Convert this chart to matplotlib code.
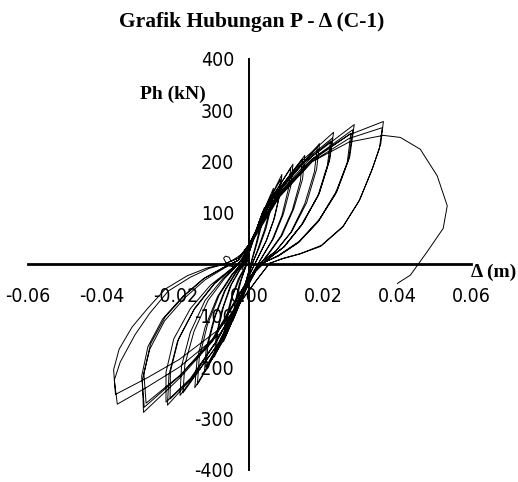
import numpy as np
import matplotlib.pyplot as plt
from matplotlib import font_manager
from matplotlib.font_manager import FontProperties

# hysteresis loops: displacement (m), load (kN), cycle by cycle
d_1a = [-0.002, 0.000, 0.0015, 0.0035, 0.003, 0.0018, 0.0005, -0.001, -0.0025, -0.004, -0.0034, -0.0022, -0.001]
p_1a = [-10, 25, 60, 100, 75, 40, 5, -35, -70, -95, -65, -30, -5]
d_1b = [0.000, 0.002, 0.004, 0.0035, 0.0022, 0.0008, -0.0008, -0.0025, -0.0045, -0.004, -0.0028, -0.0012]
p_1b = [25, 70, 110, 82, 45, 10, -30, -75, -110, -78, -40, -8]
d_2a = [0.000, 0.003, 0.006, 0.0055, 0.004, 0.0022, 0.0005, -0.0015, -0.0035, -0.0065, -0.006, -0.0045, -0.0025, -0.001]
p_2a = [25, 85, 135, 105, 65, 28, -5, -45, -90, -140, -105, -60, -25, -5]
d_2b = [0.000, 0.003, 0.0065, 0.006, 0.0045, 0.0025, 0.0008, -0.0012, -0.0035, -0.007, -0.0066, -0.005, -0.003, -0.0012]
p_2b = [28, 90, 148, 115, 70, 30, 2, -40, -92, -150, -112, -68, -28, -5]
d_3a = [0.000, 0.0035, 0.0084, 0.008, 0.0065, 0.0045, 0.0022, 0.0002, -0.002, -0.005, -0.009, -0.0086, -0.007, -0.0048, -0.0025, -0.001]
p_3a = [30, 100, 165, 130, 85, 45, 12, -18, -55, -110, -170, -130, -82, -38, -10, 5]
d_3b = [0.000, 0.004, 0.0088, 0.0083, 0.0068, 0.0047, 0.0024, 0.0003, -0.002, -0.0055, -0.0095, -0.009, -0.0074, -0.0052, -0.0028, -0.0012]
p_3b = [30, 105, 175, 138, 90, 48, 14, -16, -55, -115, -180, -138, -88, -42, -12, 5]
d_4a = [0.000, 0.0045, 0.0112, 0.0106, 0.0088, 0.0062, 0.0035, 0.001, -0.0015, -0.006, -0.0118, -0.0112, -0.0092, -0.0065, -0.0035, -0.0015]
p_4a = [32, 112, 188, 148, 95, 48, 15, -15, -55, -125, -200, -155, -100, -50, -15, 5]
d_4b = [0.000, 0.0048, 0.0118, 0.0112, 0.0092, 0.0065, 0.0036, 0.0012, -0.0015, -0.0065, -0.0122, -0.0117, -0.0096, -0.0068, -0.0038, -0.0015]
p_4b = [32, 115, 195, 152, 98, 50, 16, -14, -55, -130, -210, -163, -105, -52, -16, 5]
d_5a = [0.000, 0.005, 0.0144, 0.0138, 0.0116, 0.0085, 0.005, 0.002, -0.001, -0.0065, -0.0141, -0.0136, -0.0114, -0.0082, -0.0046, -0.0018]
p_5a = [35, 118, 205, 162, 105, 55, 20, -8, -50, -140, -234, -182, -118, -60, -20, 5]
d_5b = [0.000, 0.0052, 0.015, 0.0144, 0.012, 0.0088, 0.0052, 0.0021, -0.001, -0.0068, -0.0148, -0.0142, -0.012, -0.0086, -0.0048, -0.0018]
p_5b = [35, 120, 212, 166, 108, 56, 20, -8, -50, -145, -240, -186, -122, -62, -20, 5]
d_6a = [0.000, 0.006, 0.0184, 0.0176, 0.015, 0.0112, 0.007, 0.0032, 0.0005, -0.0025, -0.008, -0.018, -0.0175, -0.015, -0.0112, -0.0068, -0.003]
p_6a = [38, 125, 228, 180, 118, 62, 25, 4, -22, -65, -150, -250, -195, -130, -70, -28, 0]
d_6b = [0.000, 0.006, 0.019, 0.0182, 0.0155, 0.0115, 0.0072, 0.0033, 0.0005, -0.0025, -0.0085, -0.0188, -0.0184, -0.016, -0.012, -0.0072, -0.0032]
p_6b = [38, 126, 235, 185, 120, 64, 26, 5, -22, -65, -155, -255, -198, -132, -70, -28, 0]
d_7a = [0.000, 0.006, 0.014, 0.0228, 0.0218, 0.019, 0.0145, 0.0095, 0.005, 0.0015, -0.002, -0.009, -0.016, -0.0222, -0.0218, -0.0195, -0.015, -0.0095, -0.005, -0.002]
p_7a = [40, 128, 200, 257, 205, 140, 80, 35, 10, -15, -60, -150, -225, -274, -215, -150, -88, -38, -10, 8]
d_7b = [0.000, 0.006, 0.014, 0.0225, 0.0215, 0.0188, 0.0143, 0.0094, 0.0049, 0.0014, -0.002, -0.0085, -0.0155, -0.0215, -0.0214, -0.0192, -0.0148, -0.0095, -0.005, -0.002]
p_7b = [40, 126, 196, 246, 198, 136, 78, 34, 10, -15, -58, -145, -220, -262, -208, -145, -85, -37, -10, 8]
d_7c = [0.000, 0.006, 0.0135, 0.022, 0.0211, 0.0185, 0.014, 0.0092, 0.0048, 0.0013, -0.002, -0.0088, -0.016, -0.0226, -0.0226, -0.0205, -0.016, -0.0105, -0.0055, -0.002]
p_7c = [40, 124, 190, 240, 192, 132, 76, 33, 9, -15, -60, -148, -222, -268, -210, -145, -86, -40, -12, 8]
d_8a = [0.000, 0.007, 0.017, 0.0284, 0.0272, 0.0238, 0.019, 0.0135, 0.008, 0.0035, 0.000, -0.004, -0.010, -0.019, -0.0287, -0.029, -0.027, -0.023, -0.0175, -0.012, -0.007, -0.003]
p_8a = [40, 130, 210, 272, 210, 145, 88, 45, 18, 2, -25, -75, -150, -222, -288, -225, -165, -110, -65, -30, -8, 8]
d_8b = [0.000, 0.007, 0.017, 0.028, 0.0269, 0.0236, 0.0188, 0.0134, 0.0079, 0.0034, 0.000, -0.004, -0.010, -0.019, -0.0285, -0.0292, -0.0275, -0.0235, -0.018, -0.0125, -0.0072, -0.003]
p_8b = [40, 128, 205, 262, 204, 140, 85, 43, 17, 2, -25, -74, -148, -218, -278, -218, -160, -106, -62, -28, -7, 8]
d_8c = [0.000, 0.007, 0.0165, 0.0275, 0.0265, 0.0232, 0.0185, 0.0132, 0.0078, 0.0034, 0.000, -0.004, -0.010, -0.0185, -0.028, -0.0286, -0.0268, -0.0228, -0.0175, -0.0122, -0.007, -0.003]
p_8c = [40, 126, 200, 255, 198, 136, 82, 42, 16, 2, -25, -72, -145, -214, -270, -212, -155, -102, -60, -27, -6, 8]
d_9a = [0.000, 0.008, 0.017, 0.027, 0.0363, 0.0356, 0.0335, 0.030, 0.0255, 0.0195, 0.0138, 0.0092, 0.0055, 0.002, -0.002, -0.008, -0.019, -0.028, -0.0358, -0.0366, -0.035, -0.031, -0.027, -0.022, -0.016, -0.011, -0.007, -0.003]
p_9a = [40, 135, 205, 252, 278, 235, 190, 127, 75, 37, 21, 12, 2, -30, -70, -135, -200, -240, -272, -225, -190, -137, -95, -52, -25, -8, 0, 12]
d_9b = [0.000, 0.008, 0.017, 0.027, 0.036, 0.0352, 0.033, 0.0296, 0.0252, 0.0193, 0.0136, 0.009, 0.0054, 0.002, -0.002, -0.008, -0.019, -0.028, -0.0363, -0.0368, -0.0353, -0.0318, -0.0275, -0.0228, -0.0168, -0.0115, -0.0072, -0.003]
p_9b = [40, 132, 200, 245, 266, 225, 180, 122, 72, 35, 20, 11, 2, -30, -68, -125, -185, -222, -253, -205, -165, -122, -85, -48, -22, -7, 0, 12]

# small kink near the origin
d_kink = [-0.004, -0.0055, -0.0065, -0.007, -0.0065, -0.0055, -0.005, -0.002]
p_kink = [-5, -3, 5, 12, 16, 14, 6, 20]

# last cycle, pushed to failure
d_end = [0.000, 0.008, 0.017, 0.027, 0.0363, 0.0409, 0.0463, 0.0509, 0.0536, 0.0525, 0.0482, 0.0436, 0.0401]
p_end = [35, 130, 200, 238, 251, 247, 224, 172, 114, 70, 25, -21, -37]

cycles = [(d_1a, p_1a), (d_1b, p_1b), (d_2a, p_2a), (d_2b, p_2b), (d_3a, p_3a), (d_3b, p_3b),
          (d_4a, p_4a), (d_4b, p_4b), (d_5a, p_5a), (d_5b, p_5b), (d_6a, p_6a), (d_6b, p_6b),
          (d_kink, p_kink), (d_7a, p_7a), (d_7b, p_7b), (d_7c, p_7c),
          (d_8a, p_8a), (d_8b, p_8b), (d_8c, p_8c), (d_9a, p_9a), (d_9b, p_9b), (d_end, p_end)]

xticks = [-0.06, -0.04, -0.02, 0.00, 0.02, 0.04, 0.06]
yticks = [-400, -300, -200, -100, 100, 200, 300, 400]


def find_font(keys, fallback):
    files = [f.fname for f in font_manager.fontManager.ttflist]
    for k in keys:
        for fn in files:
            if fn.endswith(k):
                return FontProperties(fname=fn)
    return FontProperties(family=fallback)


tick_fp = find_font(['LiberationSansNarrow-Regular.ttf', 'DejaVuSansCondensed.ttf'], 'Liberation Sans')
tick_fp.set_size(15 if 'Narrow' in str(tick_fp.get_file()) else 14)
serif_fp = FontProperties(family='Liberation Serif', weight='bold')

fig = plt.figure(figsize=(5.18, 4.82), dpi=100)
ax = fig.add_axes([0.054, 0.025, 0.855, 0.853])

d_all = np.concatenate([np.array(d) for d, p in cycles])
p_all = np.concatenate([np.array(p) for d, p in cycles])
ax.plot(d_all, p_all, color='black', lw=0.7)

ax.set_xlim(-0.06, 0.06)
ax.set_ylim(-400, 400)
for s in ['right', 'top']:
    ax.spines[s].set_visible(False)
ax.spines['left'].set_position(('data', 0))
ax.spines['bottom'].set_position(('data', 0))
ax.spines['left'].set_linewidth(1.4)
ax.spines['bottom'].set_linewidth(2.0)

ax.set_xticks(xticks)
ax.set_xticklabels(['%.2f' % v for v in xticks], fontproperties=tick_fp)
ax.set_yticks(yticks)
ax.set_yticklabels([str(v) for v in yticks], fontproperties=tick_fp)
ax.tick_params(axis='x', length=0, pad=16)
ax.tick_params(axis='y', length=0, pad=11)

fig.text(0.485, 0.955, 'Grafik Hubungan P - Δ (C-1)', fontproperties=serif_fp, fontsize=15.5,
         ha='center', va='center')
fig.text(0.333, 0.805, 'Ph (kN)', fontproperties=serif_fp, fontsize=14, ha='center', va='center')
fig.text(0.952, 0.435, 'Δ (m)', fontproperties=serif_fp, fontsize=14, ha='center', va='center')

fig.savefig('out.png', dpi=100)
